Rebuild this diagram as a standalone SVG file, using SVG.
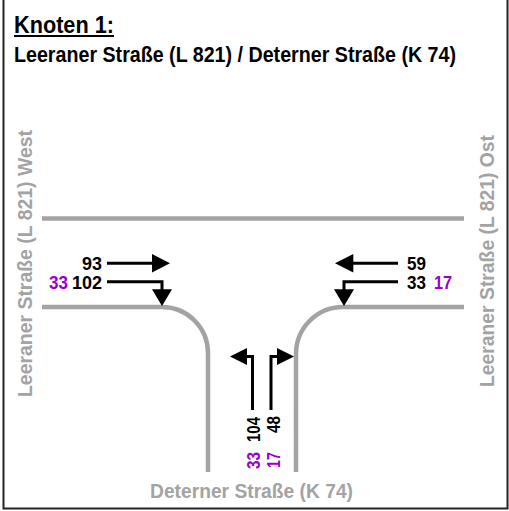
<svg xmlns="http://www.w3.org/2000/svg" width="509" height="511" viewBox="0 0 509 511">
<style>
.t{font-family:"Liberation Sans",Arial,sans-serif;font-weight:bold}
.road{fill:none;stroke:#a3a3a3;stroke-width:4.5}
.lbl{font-family:"Liberation Sans",Arial,sans-serif;font-weight:bold;font-size:21px;fill:#a3a3a3}
.num{font-family:"Liberation Sans",Arial,sans-serif;font-weight:bold;font-size:19px;fill:#000}
.pur{fill:#9900cc}
.arr{fill:none;stroke:#000;stroke-width:3}
</style>
<rect x="0" y="0" width="509" height="511" fill="#fff"/>
<rect x="3.5" y="-2" width="504" height="510.5" fill="none" stroke="#222" stroke-width="2"/>
<g id="title">
<text class="t" x="14" y="32.5" font-size="23" textLength="100" lengthAdjust="spacingAndGlyphs">Knoten 1:</text>
<rect x="14" y="35" width="100" height="2" fill="#000"/>
<text class="t" x="14" y="62" font-size="21.5" textLength="442" lengthAdjust="spacingAndGlyphs">Leeraner Straße (L 821) / Deterner Straße (K 74)</text>
</g>
<g id="roads">
<line class="road" x1="42" y1="218.5" x2="464" y2="218.5"/>
<path class="road" d="M42,307 H162 A46,46 0 0 1 208,353 V472"/>
<path class="road" d="M464,307 H343 A47,47 0 0 0 296,354 V472"/>
</g>
<g id="road-labels">
<text class="lbl" transform="translate(31.5,263.5) rotate(-90)" text-anchor="middle" textLength="267" lengthAdjust="spacingAndGlyphs">Leeraner Straße (L 821) West</text>
<text class="lbl" transform="translate(493.5,261) rotate(-90)" text-anchor="middle" textLength="252" lengthAdjust="spacingAndGlyphs">Leeraner Straße (L 821) Ost</text>
<text class="lbl" x="251.5" y="497.5" text-anchor="middle" textLength="203" lengthAdjust="spacingAndGlyphs">Deterner Straße (K 74)</text>
</g>
<g id="connectors">
<line class="arr" x1="107" y1="263.3" x2="153" y2="263.3"/>
<polygon points="152,254 170,263.3 152,272.6"/>
<path class="arr" d="M107,281.7 H162 V291"/>
<polygon points="152,289.3 172,289.3 162,306"/>
<line class="arr" x1="398" y1="263.3" x2="352" y2="263.3"/>
<polygon points="353.3,254 335,263.3 353.3,272.6"/>
<path class="arr" d="M398,281.7 H344 V291"/>
<polygon points="334,289.3 354,289.3 344,306"/>
<path class="arr" d="M252.5,410 V356.5 H246"/>
<polygon points="247,348 230,356.5 247,365"/>
<path class="arr" d="M271,410 V356.5 H278"/>
<polygon points="277,348 294,356.5 277,365"/>
</g>
<g id="west-counts">
<text class="num" x="102" y="270" text-anchor="end" textLength="20" lengthAdjust="spacingAndGlyphs">93</text>
<text class="num" x="102" y="289" text-anchor="end" textLength="30" lengthAdjust="spacingAndGlyphs">102</text>
<text class="num pur" x="68" y="289" text-anchor="end" textLength="19" lengthAdjust="spacingAndGlyphs">33</text>
</g>
<g id="east-counts">
<text class="num" x="407" y="270" textLength="19" lengthAdjust="spacingAndGlyphs">59</text>
<text class="num" x="407" y="289" textLength="19" lengthAdjust="spacingAndGlyphs">33</text>
<text class="num pur" x="434" y="289" textLength="18" lengthAdjust="spacingAndGlyphs">17</text>
</g>
<g id="south-counts">
<text class="num" transform="translate(260,417) rotate(-90)" text-anchor="end" textLength="25" lengthAdjust="spacingAndGlyphs">104</text>
<text class="num" transform="translate(279.5,416) rotate(-90)" text-anchor="end" textLength="17" lengthAdjust="spacingAndGlyphs">48</text>
<text class="num pur" transform="translate(260,452) rotate(-90)" text-anchor="end" textLength="17" lengthAdjust="spacingAndGlyphs">33</text>
<text class="num pur" transform="translate(279.5,452) rotate(-90)" text-anchor="end" textLength="16" lengthAdjust="spacingAndGlyphs">17</text>
</g>
</svg>
